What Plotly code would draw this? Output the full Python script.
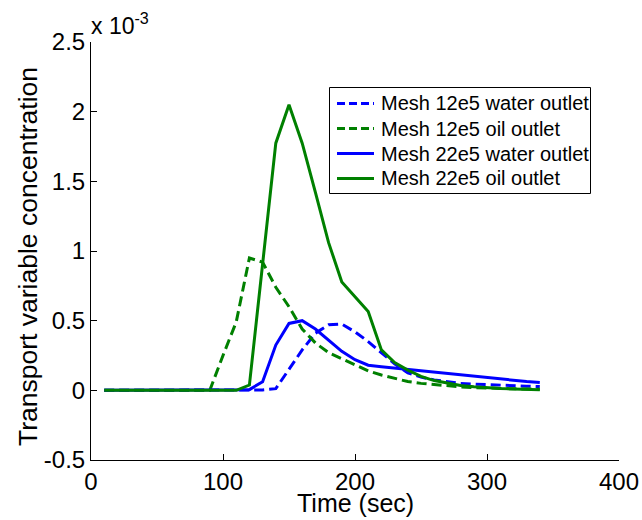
import plotly.graph_objects as go

# Data (values in units of 1e-3)
time_sec = list(range(10, 350, 10))

water_12e5 = [0]*12 + [0.003, 0.012, 0.15, 0.29, 0.41, 0.47, 0.475, 0.42, 0.35, 0.27,
                       0.19, 0.125, 0.095, 0.075, 0.06, 0.05, 0.045, 0.04, 0.037, 0.033, 0.03, 0.027]
oil_12e5 = [0]*9 + [0.25, 0.49, 0.95, 0.92, 0.74, 0.6, 0.44, 0.34, 0.27, 0.225, 0.18, 0.14,
                    0.11, 0.085, 0.063, 0.05, 0.04, 0.03, 0.025, 0.02, 0.016, 0.013, 0.011, 0.01, 0.008]
water_22e5 = [0]*11 + [0.005, 0.062, 0.325, 0.48, 0.5, 0.44, 0.36, 0.28, 0.22, 0.18, 0.17,
                       0.16, 0.155, 0.14, 0.13, 0.12, 0.11, 0.1, 0.09, 0.08, 0.07, 0.063, 0.057]
oil_22e5 = [0]*11 + [0.038, 0.91, 1.774, 2.05, 1.774, 1.42, 1.06, 0.778, 0.67, 0.565, 0.29,
                     0.2, 0.145, 0.1, 0.07, 0.05, 0.035, 0.025, 0.018, 0.013, 0.01, 0.007, 0.005]

series_names = ["Mesh 12e5 water outlet", "Mesh 12e5 oil outlet",
                "Mesh 22e5 water outlet", "Mesh 22e5 oil outlet"]
y_ticks = [-0.5, 0, 0.5, 1, 1.5, 2, 2.5]
y_ticktext = ["-0.5", "0", "0.5", "1", "1.5", "2", "2.5"]
x_ticks = [0, 100, 200, 300, 400]
x_title = "Time (sec)"
y_title = "Transport variable concentration"

BLUE = "#0000FF"
GREEN = "#008000"
FONT = "Liberation Sans, Arial, sans-serif"

W, H = 642, 520
ML, MR, MT, MB = 91, 23, 42, 60
PW, PH = W - ML - MR, H - MT - MB


def px_x(p):
    return (p - ML) / PW


def px_y(p):
    return (H - MB - p) / PH


fig = go.Figure()
styles = [(water_12e5, BLUE, "10px,5px"), (oil_12e5, GREEN, "10px,5px"),
          (water_22e5, BLUE, "solid"), (oil_22e5, GREEN, "solid")]
for name, (vals, col, dash) in zip(series_names, styles):
    fig.add_trace(go.Scatter(x=time_sec, y=vals, mode="lines", name=name,
                             line=dict(color=col, width=3, dash=dash)))

fig.update_layout(
    width=W, height=H,
    margin=dict(l=ML, r=MR, t=MT, b=MB),
    paper_bgcolor="white", plot_bgcolor="white",
    font=dict(family=FONT, color="black", size=22),
    showlegend=False,
    xaxis=dict(range=[0, 400], tickvals=x_ticks, ticks="inside", ticklen=6,
               tickcolor="black", showline=True, linecolor="black", linewidth=1,
               showgrid=False, zeroline=False, mirror=False, automargin=False,
               tickfont=dict(size=24)),
    yaxis=dict(range=[-0.5, 2.5], tickvals=y_ticks, ticktext=y_ticktext,
               ticks="inside", ticklen=6, tickcolor="black",
               showline=True, linecolor="black", linewidth=1,
               showgrid=False, zeroline=False, mirror=False, automargin=False,
               tickfont=dict(size=24)),
)

# Axis titles
fig.add_annotation(text=x_title, xref="paper", yref="paper",
                   x=0.5, y=px_y(503), xanchor="center", yanchor="middle",
                   showarrow=False, font=dict(size=25, family=FONT))
fig.add_annotation(text=y_title, xref="paper", yref="paper", textangle=-90,
                   x=px_x(28), y=px_y(257), xanchor="center", yanchor="middle",
                   showarrow=False, font=dict(size=26.5, family=FONT))

fig.add_annotation(text="x 10<sup>-3</sup>", xref="paper", yref="paper",
                   x=0, y=1, xanchor="left", yanchor="bottom", showarrow=False,
                   font=dict(size=23, family=FONT), xshift=-2, yshift=1)

# Legend box drawn manually to match the reference layout
box_l, box_r, box_t, box_b = 329.5, 590.5, 87.5, 193.5
fig.add_shape(type="rect", xref="paper", yref="paper",
              x0=px_x(box_l), x1=px_x(box_r), y0=px_y(box_b), y1=px_y(box_t),
              line=dict(color="black", width=1), fillcolor="white", layer="above")
row_y = [103.5, 128.5, 153.5, 178.5]
for name, (vals, col, dash), ry in zip(series_names, styles, row_y):
    fig.add_shape(type="line", xref="paper", yref="paper",
                  x0=px_x(337), x1=px_x(374), y0=px_y(ry), y1=px_y(ry),
                  line=dict(color=col, width=3, dash="8px,4px" if dash != "solid" else "solid"),
                  layer="above")
    fig.add_annotation(text=name, xref="paper", yref="paper",
                       x=px_x(379), y=px_y(ry), xanchor="left", yanchor="middle",
                       showarrow=False, font=dict(size=20, family=FONT))

fig.write_html("out.html")
